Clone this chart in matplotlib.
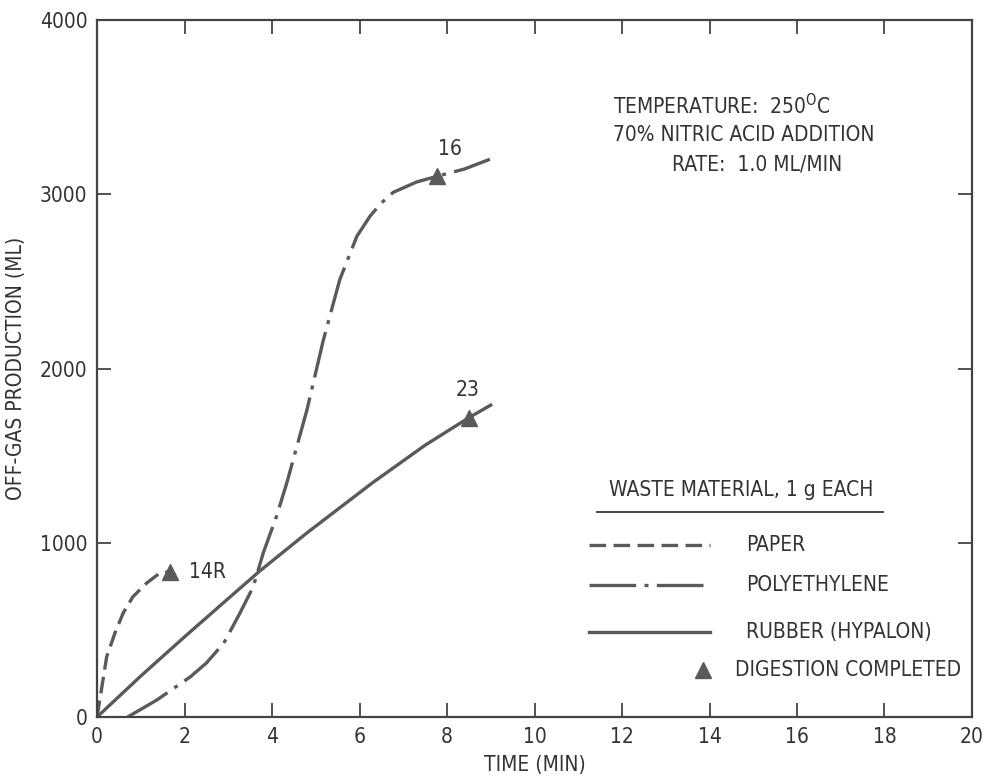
import matplotlib
matplotlib.use("Agg")
import matplotlib.pyplot as plt
from matplotlib.lines import Line2D

plt.rcParams['font.family'] = ['DejaVu Sans']
plt.rcParams['font.stretch'] = 'condensed'

# paper (run 14R)
paper_t = [0, 0.11, 0.22, 0.41, 0.6, 0.82, 1.14, 1.44, 1.67]
paper_v = [0, 172, 345, 482, 598, 690, 770, 827, 833]

# polyethylene (run 16)
poly_t = [0.7, 1.37, 2.13, 2.5, 2.9, 3.27, 3.57, 3.8, 4.1, 4.34, 4.8, 5.17, 5.55,
          5.94, 6.24, 6.5, 6.77, 7.3, 7.77, 8.4, 8.98]
poly_v = [0, 98, 230, 310, 425, 598, 747, 942, 1150, 1345, 1764, 2160, 2511,
          2759, 2874, 2950, 3011, 3070, 3103, 3145, 3201]

# rubber (hypalon, run 23)
rubber_t = [0, 1, 2, 3, 3.73, 4.8, 6.3, 7.5, 8.5, 9.0]
rubber_v = [0, 235, 460, 680, 840, 1057, 1345, 1560, 1718, 1790]

# digestion completed points
done_t = [1.67, 7.77, 8.5]
done_v = [833, 3103, 1718]
done_lbl = ['14R', '16', '23']
lbl_t = [2.1, 8.07, 8.48]
lbl_v = [830, 3259, 1879]

col = '#5a5a5a'
txt = '#333333'
lw = 2.4
fs = 15

fig = plt.figure(figsize=(9.88, 7.82), dpi=100)
ax = fig.add_axes([0.0982, 0.0831, 0.8856, 0.8913])

ax.plot(paper_t, paper_v, color=col, lw=lw, ls=(0, (5, 2.2)))
ax.plot(poly_t, poly_v, color=col, lw=lw, ls=(0, (14, 2.5, 1.2, 2.5)))
ax.plot(rubber_t, rubber_v, color=col, lw=lw)
ax.plot(done_t, done_v, ls='none', marker='^', ms=11, color=col)
for t, v, s in zip(lbl_t, lbl_v, done_lbl):
    ax.text(t, v, s, fontsize=fs, color=txt, ha='left' if s == '14R' else 'center',
            va='center')

ax.set_xlim(0, 20)
ax.set_ylim(0, 4000)
ax.set_xticks(range(0, 21, 2))
ax.set_yticks(range(0, 4001, 1000))
ax.tick_params(direction='in', length=10, width=1.3, top=True, right=True,
               labelsize=fs, labelcolor=txt, color='#444444', pad=7)
for s in ax.spines.values():
    s.set_linewidth(1.6)
    s.set_color('#444444')

ax.set_xlabel('TIME (MIN)', fontsize=fs, color=txt, labelpad=6)
ax.set_ylabel('OFF-GAS PRODUCTION (ML)', fontsize=fs, color=txt, labelpad=10)

# conditions note
fig.text(613 / 988, 1 - 106 / 782, 'TEMPERATURE:  250$^{\\mathrm{O}}$C', fontsize=fs,
         color=txt, va='center')
fig.text(613 / 988, 1 - 135 / 782, '70% NITRIC ACID ADDITION', fontsize=fs,
         color=txt, va='center')
fig.text(672 / 988, 1 - 165 / 782, 'RATE:  1.0 ML/MIN', fontsize=fs,
         color=txt, va='center')

# hand-drawn style legend
fig.text(741 / 988, 1 - 490 / 782, 'WASTE MATERIAL, 1 g EACH', fontsize=fs,
         color=txt, ha='center', va='center')
fig.add_artist(Line2D([597 / 988, 883 / 988], [1 - 512 / 782, 1 - 512 / 782],
                      color='#444444', lw=1.4))
rows = [('PAPER', (0, (5, 2.2)), 545),
        ('POLYETHYLENE', (0, (14, 2.5, 1.2, 2.5)), 585),
        ('RUBBER (HYPALON)', '-', 632)]
for name, style, py in rows:
    fig.add_artist(Line2D([589 / 988, 710 / 988], [1 - py / 782, 1 - py / 782],
                          color=col, lw=lw, ls=style))
    fig.text(746 / 988, 1 - py / 782, name, fontsize=fs, color=txt, va='center')
fig.add_artist(Line2D([703 / 988], [1 - 670 / 782], ls='none', marker='^', ms=11,
                      color=col))
fig.text(735 / 988, 1 - 670 / 782, 'DIGESTION COMPLETED', fontsize=fs, color=txt,
         va='center')

fig.savefig('out.png', dpi=100)
